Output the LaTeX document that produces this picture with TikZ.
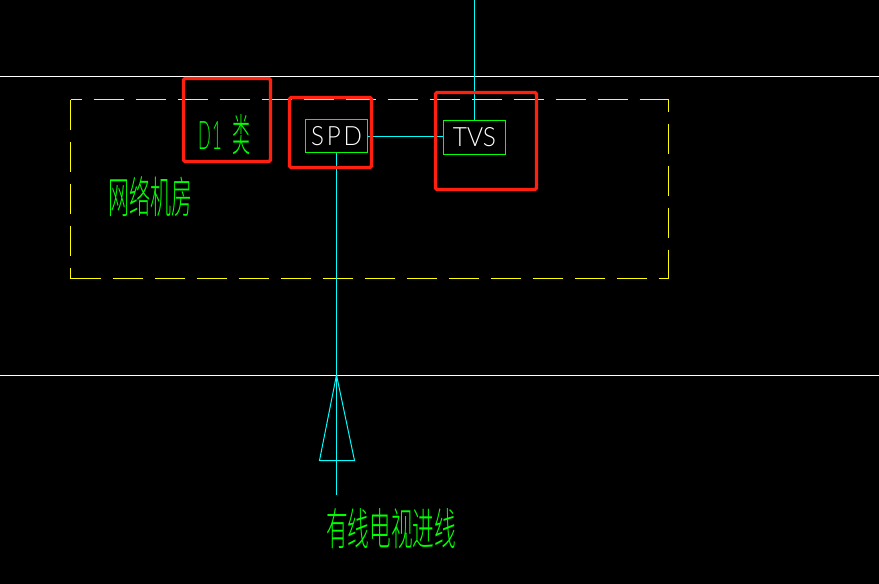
\documentclass[tikz,border=0pt]{standalone}
\usepackage{fontspec}
\setmainfont{Liberation Sans}
\newfontfamily\cjk[UprightFont={* Light}]{Noto Sans CJK SC}
\newfontfamily\thinlat{Lato Light}
\definecolor{cadgreen}{RGB}{0,255,0}
\definecolor{cadcyan}{RGB}{0,255,255}
\definecolor{cadyellow}{RGB}{255,255,0}
\definecolor{cadred}{RGB}{255,32,16}
\tikzset{
  wire/.style={draw=cadcyan,line width=1pt},
  rail/.style={draw=white,line width=1pt},
  room/.style={draw=cadyellow,line width=1pt,dash pattern=on 30pt off 12pt},
  devbox/.style={draw=cadgreen,line width=1pt,inner sep=0pt,text=white},
  redmark/.style={draw=cadred,line width=3.4pt,rounded corners=1.5pt,inner sep=0pt},
  lbl/.style={inner sep=0pt,text=cadgreen},
}
\newcommand{\fitted}[3]{\resizebox{#1pt}{#2pt}{#3}}
\begin{document}
\begin{tikzpicture}[x=1pt,y=-1pt]
\useasboundingbox[fill=black] (0,0) rectangle (879,584);
\coordinate (railAl) at (0,76.5); \coordinate (railAr) at (879,76.5);
\coordinate (railBl) at (0,375.5); \coordinate (railBr) at (879,375.5);
\draw[rail] (railAl) -- (railAr);
\draw[rail] (railBl) -- (railBr);
% room outline
\coordinate (tl) at (70.5,99.5); \coordinate (tr) at (668.5,99.5);
\coordinate (br) at (668.5,278.5); \coordinate (bl) at (70.5,278.5);
\draw[room,dash phase=19] (tl) -- (tr);
\draw[room,dash phase=18] (tr) -- (br);
\draw[room,dash phase=0] (tl) -- (bl);
\draw[room,dash phase=0] (bl) -- (br);
% devices
\node[devbox,minimum width=62pt,minimum height=33pt] (spd) at (336.5,136) {\fitted{51}{19}{\thinlat S\kern.12em P\kern.12em D}};
\node[devbox,minimum width=62pt,minimum height=34pt] (tvs) at (474.5,137.5) {\fitted{43}{19}{\thinlat TVS}};
% wires
\coordinate (top) at (474.5,0);
\coordinate (apex) at (336.5,375);
\coordinate (baseL) at (319.5,460.5);
\coordinate (baseR) at (354.5,460.5);
\coordinate (tail) at (336.5,495);
\draw[wire] (top) -- (tvs.north);
\draw[wire] (spd.east |- 0,136.5) -- (tvs.west |- 0,136.5);
\draw[wire] (spd.south) -- (tail);
\draw[wire] (apex) -- (baseR) -- (baseL) -- cycle;
% labels
\node[lbl,anchor=north west] (d1) at (198,121) {\fitted{24}{28}{\thinlat D\kern.1em 1}};
\node[lbl,anchor=north west] (lei) at (232,114) {\fitted{18}{37}{\cjk 类}};
\node[lbl,anchor=north west] (room) at (108,176) {\fitted{84}{37}{\cjk 网络机房}};
\node[lbl,anchor=north west] (cable) at (326,508) {\fitted{130}{37}{\cjk 有线电视进线}};
% red marks
\node[redmark,minimum width=87pt,minimum height=83pt] (m1) at (227,120) {};
\node[redmark,minimum width=82pt,minimum height=70pt] (m2) at (330.5,132.5) {};
\node[redmark,minimum width=101pt,minimum height=97pt] (m3) at (486,141) {};
\end{tikzpicture}
\end{document}
